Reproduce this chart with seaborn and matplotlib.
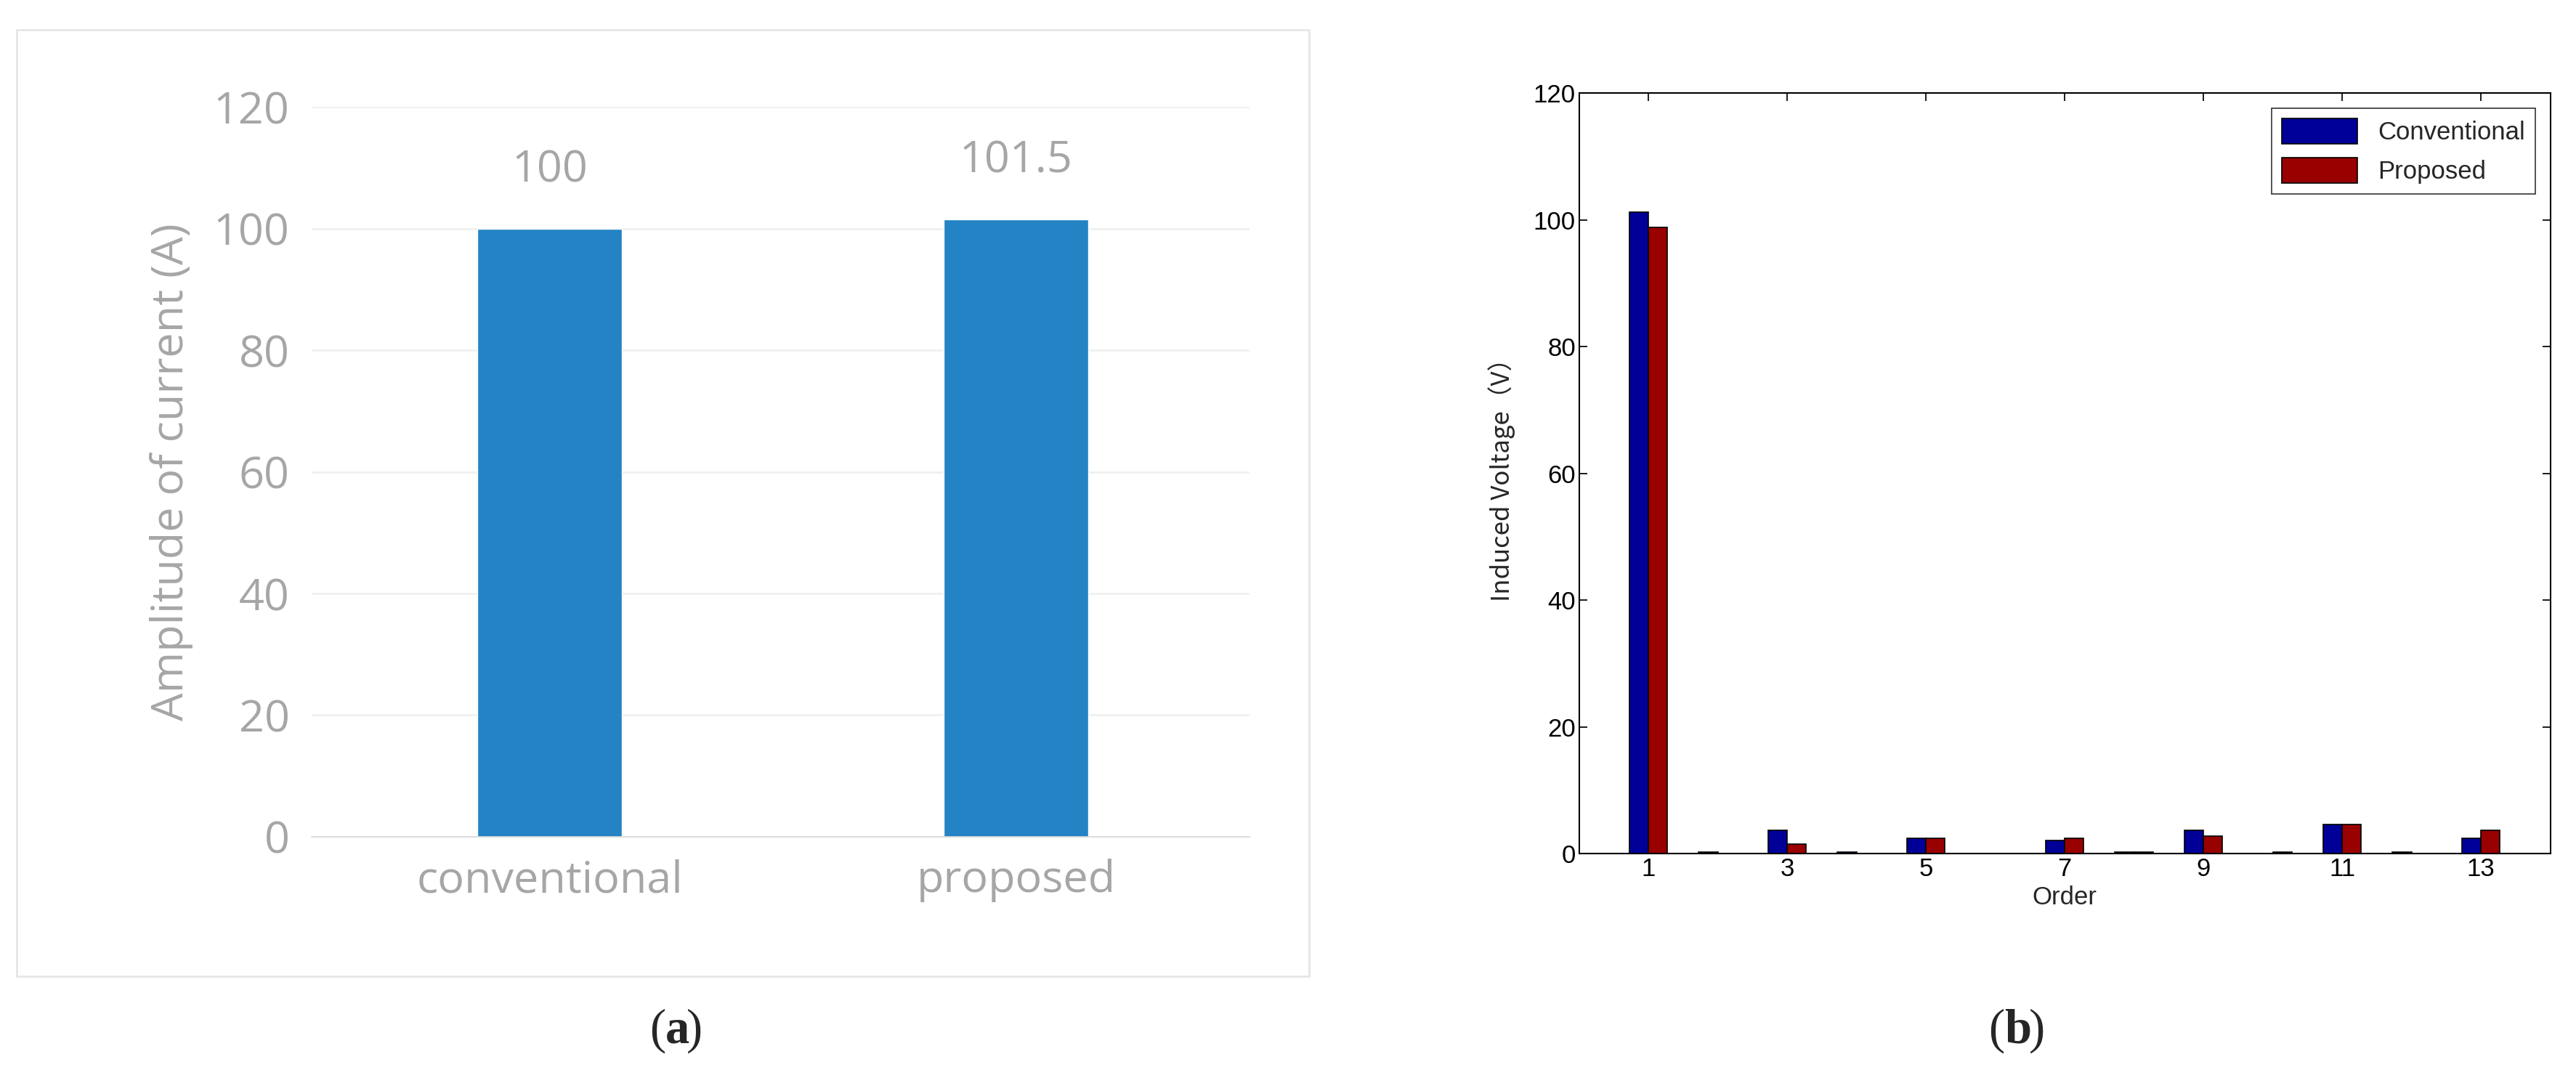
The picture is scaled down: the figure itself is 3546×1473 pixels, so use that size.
import matplotlib
matplotlib.use("Agg")
import matplotlib.pyplot as plt
import seaborn as sns
import pandas as pd
from matplotlib.patches import Rectangle

cats_a = ["conventional", "proposed"]
vals_a = [100, 101.5]
labels_a = ["100", "101.5"]

orders = list(range(1, 14))
conv = [101.2, 0.3, 3.7, 0.3, 2.45, 0.0, 2.1, 0.3, 3.7, 0.0, 4.6, 0.3, 2.45]
prop = [98.8, 0.0, 1.55, 0.0, 2.45, 0.0, 2.45, 0.3, 2.75, 0.3, 4.6, 0.0, 3.7]

sns.set_theme(style="white")
fig = plt.figure(figsize=(35.46, 14.73), dpi=100)

# panel border a
fig.patches.append(Rectangle((10/1568, 1-595/652), 787/1568, 577/652, transform=fig.transFigure,
                             fill=False, edgecolor="#e6e6e6", linewidth=2))

gray = "#a6a6a6"
axa = fig.add_axes([0.121, 0.218, 0.364, 0.682])
dfa = pd.DataFrame({"cat": cats_a, "val": vals_a})
sns.barplot(data=dfa, x="cat", y="val", color="#2383c4", saturation=1, width=0.31, ax=axa)
axa.set_ylim(0, 120)
axa.set_xlim(-0.51, 1.5)
axa.set_yticks(range(0, 121, 20))
axa.grid(axis="y", color="#f0f0f0", linewidth=2)
axa.set_axisbelow(True)
for s in ["top", "right", "left"]:
    axa.spines[s].set_visible(False)
axa.spines["bottom"].set_color("#d9d9d9")
axa.tick_params(axis="both", colors=gray, labelsize=44, length=0, pad=22)
for t in axa.get_xticklabels() + axa.get_yticklabels():
    t.set_fontfamily("Open Sans")
axa.set_xlabel("")
axa.set_ylabel("Amplitude of current (A)", fontsize=44, color=gray, family="Open Sans", labelpad=20)
for i, (v, l) in enumerate(zip(vals_a, labels_a)):
    axa.text(i, v + 6, l, ha="center", va="bottom", fontsize=44, color=gray, family="Open Sans")

# panel b
axb = fig.add_axes([0.613, 0.202, 0.377, 0.711])
dfb = pd.DataFrame({"Order": orders * 2, "val": conv + prop,
                    "s": ["Conventional"] * 13 + ["Proposed"] * 13})
sns.barplot(data=dfb, x="Order", y="val", hue="s", palette=["#000099", "#990000"],
            saturation=1, width=0.55, edgecolor="black", linewidth=1.2, ax=axb)
axb.set_xlim(-1, 13)
axb.set_ylim(0, 120)
axb.set_xticks(range(0, 13, 2))
axb.set_xticklabels([str(o) for o in orders[::2]])
axb.set_yticks(range(0, 121, 20))
for s in axb.spines.values():
    s.set_visible(True); s.set_color("black"); s.set_linewidth(1.5)
axb.tick_params(axis="both", colors="black", labelsize=25, direction="in", length=8,
                top=True, right=True, bottom=True, left=True)
for t in axb.get_xticklabels() + axb.get_yticklabels():
    t.set_fontfamily("Liberation Sans")
axb.set_xlabel("Order", fontsize=25, family="Liberation Sans", labelpad=4)
axb.set_ylabel("Induced Voltage（V）", fontsize=25, family=["Noto Sans CJK SC", "Liberation Sans"], labelpad=18)
leg = axb.legend(loc="upper right", fontsize=25, frameon=True, fancybox=False,
                 edgecolor="black", handlelength=3, handleheight=1.2, borderaxespad=0.6)
leg.get_frame().set_linewidth(1.2)
for t in leg.get_texts():
    t.set_fontfamily("Liberation Sans")

fig.text(405/1568, 1-628/652, "(", fontsize=48, family="Liberation Serif", ha="right", va="center")
fig.text(405/1568, 1-628/652, "a", fontsize=48, family="Liberation Serif", weight="bold", ha="left", va="center")
fig.text(418/1568, 1-628/652, ")", fontsize=48, family="Liberation Serif", ha="left", va="center")
fig.text(1220/1568, 1-628/652, "(", fontsize=48, family="Liberation Serif", ha="right", va="center")
fig.text(1220/1568, 1-628/652, "b", fontsize=48, family="Liberation Serif", weight="bold", ha="left", va="center")
fig.text(1235/1568, 1-628/652, ")", fontsize=48, family="Liberation Serif", ha="left", va="center")

fig.savefig("out.png", dpi=100, facecolor="white")
